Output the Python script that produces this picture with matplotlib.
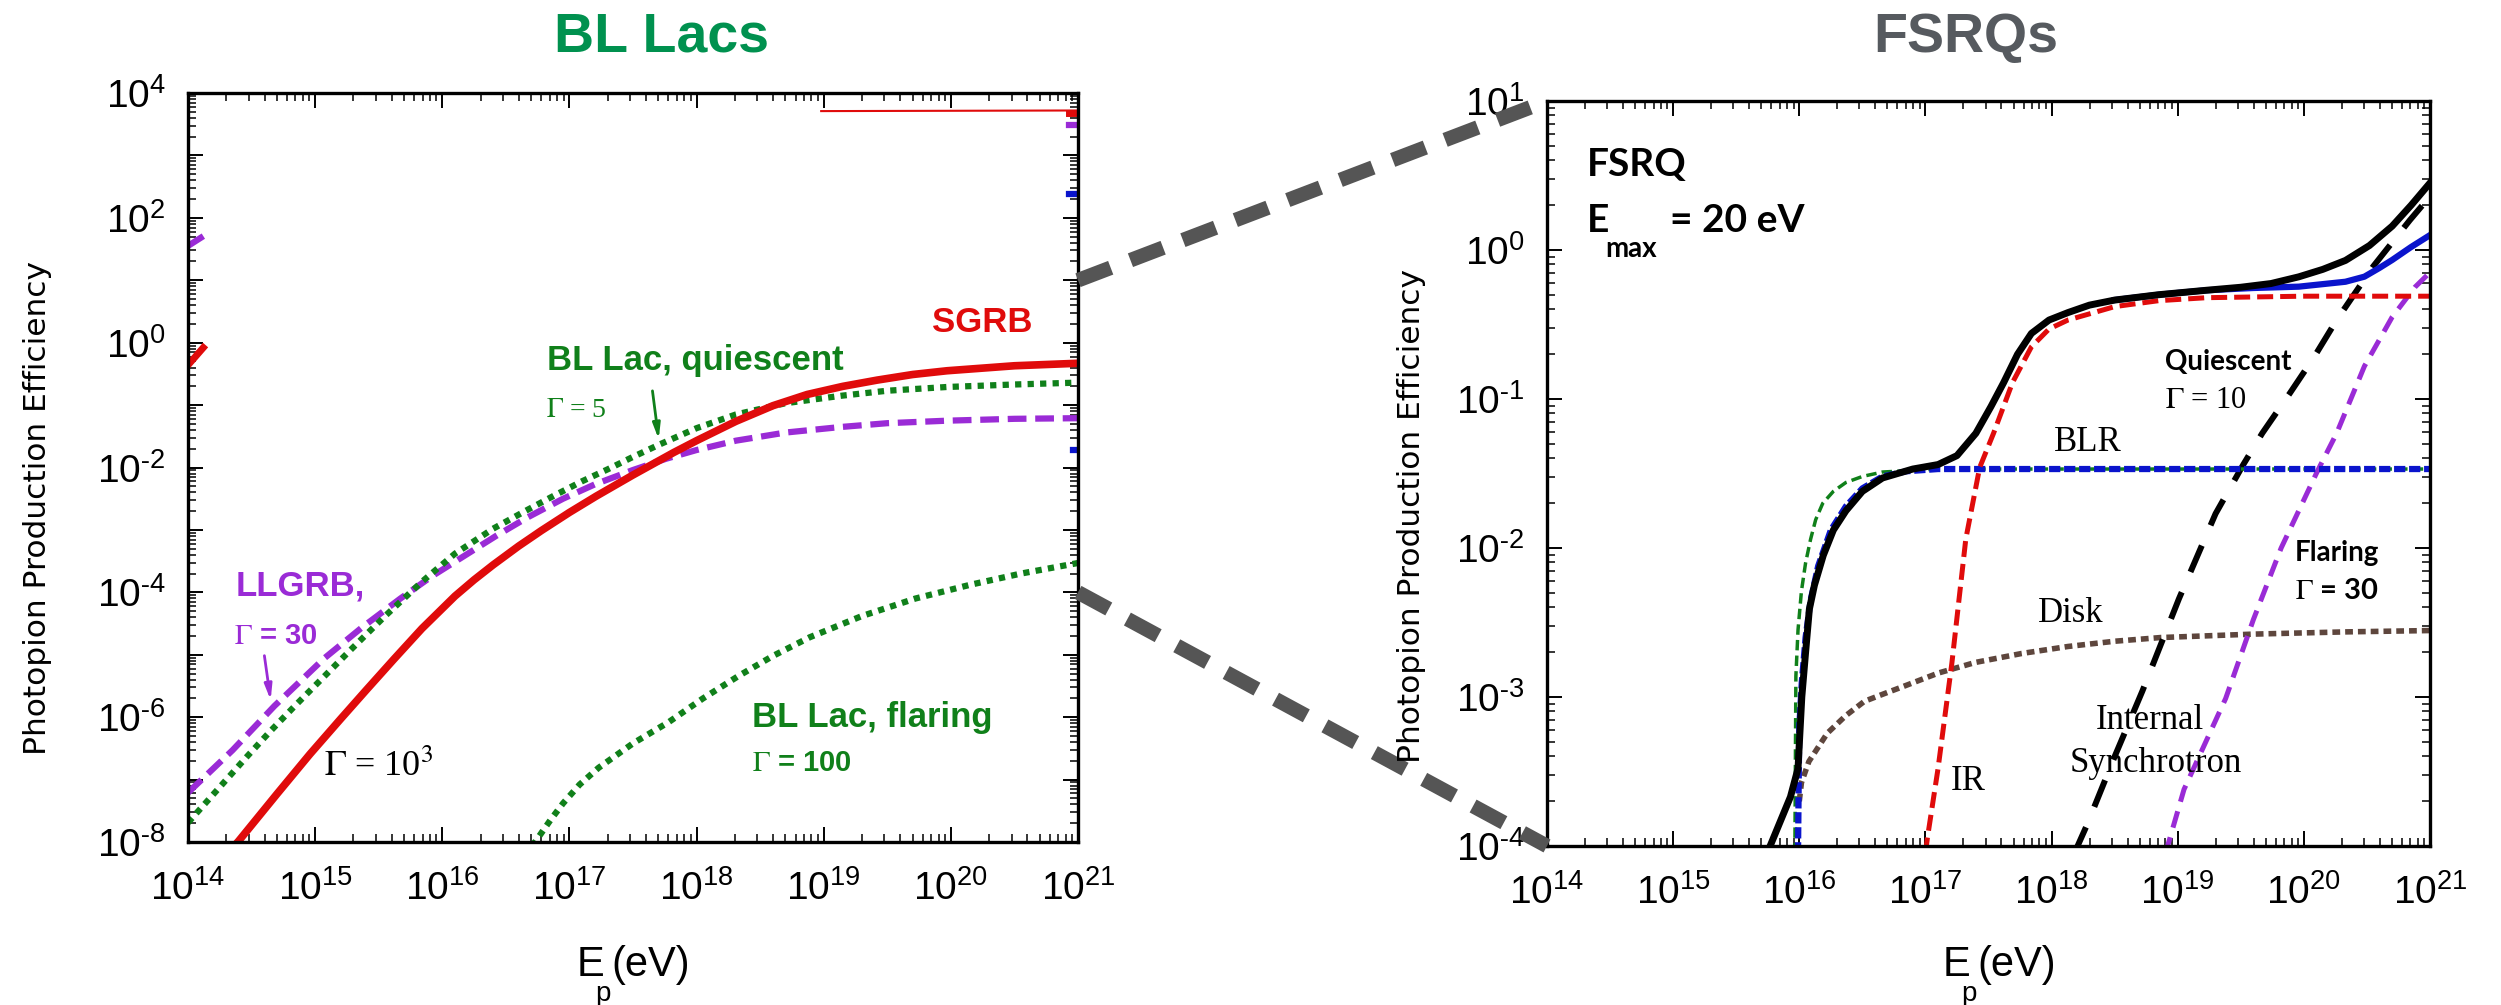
import numpy as np
import matplotlib.pyplot as plt
from matplotlib.patches import ConnectionPatch
from matplotlib.ticker import LogLocator, NullFormatter

plt.rcParams['font.family'] = ['Liberation Sans', 'DejaVu Sans']
plt.rcParams['mathtext.fontset'] = 'stix'
plt.rcParams['axes.unicode_minus'] = False

# ---------------- BL Lac panel : log10(E_p / eV) , log10(efficiency) ----------------
sgrb_logE = [14.37, 14.40, 14.70, 14.96, 15.20, 15.40, 15.62, 15.84, 16.10, 16.25,
             16.40, 16.60, 16.78, 17.00, 17.21, 17.50, 17.82, 18.00, 18.31, 18.60,
             18.87, 19.15, 19.42, 19.70, 19.97, 20.50, 21.0]
sgrb_logY = [-8.05, -7.98, -7.23, -6.59, -6.03, -5.57, -5.07, -4.58, -4.06, -3.80,
             -3.56, -3.26, -3.01, -2.72, -2.46, -2.12, -1.76, -1.57, -1.26, -1.01,
             -0.83, -0.70, -0.60, -0.51, -0.45, -0.37, -0.33]

blq_logE = [14.00, 14.25, 14.46, 14.65, 14.85, 15.07, 15.29, 15.55, 15.84, 16.10,
            16.40, 16.65, 16.88, 17.10, 17.30, 17.50, 17.71, 18.00, 18.31, 18.70,
            19.14, 19.50, 19.97, 20.50, 21.0]
blq_logY = [-7.69, -7.12, -6.64, -6.22, -5.80, -5.35, -4.90, -4.38, -3.83, -3.38,
            -2.98, -2.70, -2.45, -2.22, -2.03, -1.83, -1.63, -1.37, -1.15, -0.97,
            -0.85, -0.77, -0.71, -0.67, -0.64]

llgrb_logE = [14.00, 14.35, 14.68, 15.07, 15.37, 15.67, 15.92, 16.17, 16.42, 16.67,
              16.95, 17.20, 17.50, 17.76, 18.00, 18.31, 18.70, 19.14, 19.50, 19.97,
              20.50, 21.0]
llgrb_logY = [-7.21, -6.53, -5.82, -5.06, -4.56, -4.10, -3.74, -3.42, -3.10, -2.80,
              -2.50, -2.27, -2.04, -1.86, -1.72, -1.57, -1.44, -1.35, -1.29, -1.25,
              -1.22, -1.21]

blf_logE = [16.70, 16.73, 16.85, 16.95, 17.08, 17.23, 17.50, 17.78, 18.05, 18.33,
            18.60, 18.89, 19.30, 19.72, 20.15, 20.55, 21.0]
blf_logY = [-8.05, -8.0, -7.65, -7.38, -7.08, -6.81, -6.42, -6.08, -5.70, -5.34,
            -5.02, -4.72, -4.38, -4.10, -3.88, -3.70, -3.53]

# short stray segments at the panel edges
sgrb_top_logE = [18.98, 21.0]
sgrb_top_logY = [3.71, 3.72]
stub_red_logE = [[14.0, 14.12], [20.93, 21.0]]
stub_red_logY = [[-0.36, -0.08], [3.68, 3.68]]
stub_purple_logE = [[14.0, 14.1], [20.93, 21.0]]
stub_purple_logY = [[1.55, 1.68], [3.49, 3.49]]
stub_blue_logE = [[20.93, 20.97], [20.96, 21.0]]
stub_blue_logY = [[2.38, 2.38], [-1.72, -1.72]]

# ---------------- FSRQ panel ----------------
total_logE = [15.72, 15.93, 15.99, 16.02, 16.05, 16.08, 16.12, 16.19, 16.27, 16.37,
              16.50, 16.66, 16.90, 17.10, 17.25, 17.40, 17.52, 17.62, 17.73, 17.84,
              17.98, 18.13, 18.30, 18.50, 18.85, 19.23, 19.50, 19.74, 19.96, 20.15,
              20.33, 20.52, 20.70, 20.85, 21.0]
total_logY = [-4.10, -3.67, -3.48, -3.00, -2.70, -2.41, -2.25, -2.05, -1.88, -1.75,
              -1.62, -1.53, -1.47, -1.44, -1.38, -1.23, -1.05, -0.89, -0.70, -0.56,
              -0.47, -0.42, -0.37, -0.336, -0.30, -0.27, -0.25, -0.225, -0.18, -0.13,
              -0.07, 0.03, 0.16, 0.30, 0.45]

ext_logE = [18.50, 18.85, 19.23, 19.60, 19.96, 20.33, 20.48, 20.60, 20.70, 20.85, 21.0]
ext_logY = [-0.336, -0.30, -0.27, -0.255, -0.246, -0.213, -0.179, -0.12, -0.067, 0.02, 0.10]

blr_logE = [15.99, 15.995, 16.00, 16.02, 16.05, 16.09, 16.15, 16.25, 16.37, 16.50,
            16.66, 16.85, 17.10, 21.0]
blr_logY = [-4.05, -3.60, -3.20, -2.90, -2.60, -2.35, -2.12, -1.88, -1.72, -1.60,
            -1.52, -1.485, -1.47, -1.47]

blr2_logE = [15.965, 15.97, 15.973, 15.99, 16.017, 16.05, 16.09, 16.13, 16.186, 16.27,
             16.37, 16.50, 16.66, 17.10, 21.0]
blr2_logY = [-4.05, -3.30, -2.86, -2.55, -2.29, -2.10, -1.94, -1.81, -1.70, -1.62,
             -1.56, -1.52, -1.49, -1.47, -1.47]

ir_logE = [17.00, 17.015, 17.10, 17.21, 17.32, 17.43, 17.54, 17.69, 17.84, 17.98,
           18.13, 18.50, 18.85, 19.23, 20.0, 21.0]
ir_logY = [-4.05, -3.95, -3.48, -2.77, -1.94, -1.46, -1.23, -0.89, -0.65, -0.53,
           -0.47, -0.38, -0.34, -0.32, -0.31, -0.31]

disk_logE = [16.00, 16.017, 16.076, 16.222, 16.37, 16.516, 16.663, 16.81, 17.103,
             17.396, 17.763, 18.13, 18.497, 18.864, 19.597, 20.33, 21.0]
disk_logY = [-3.70, -3.575, -3.433, -3.243, -3.124, -3.029, -2.981, -2.934, -2.839,
             -2.768, -2.708, -2.661, -2.626, -2.601, -2.578, -2.563, -2.554]

sync_q_logE = [18.18, 18.28, 18.50, 18.72, 19.01, 19.30, 19.52, 19.67, 19.89, 20.08,
               20.26, 20.55, 20.84, 21.0]
sync_q_logY = [-4.05, -3.86, -3.40, -2.96, -2.34, -1.77, -1.44, -1.23, -0.96, -0.72,
               -0.47, -0.11, 0.20, 0.36]

sync_f_logE = [18.90, 18.92, 19.05, 19.38, 19.60, 19.82, 20.11, 20.26, 20.48, 20.70,
               20.88, 21.0]
sync_f_logY = [-4.05, -4.0, -3.62, -3.01, -2.48, -2.00, -1.48, -1.23, -0.78, -0.45,
               -0.25, -0.15]

RED = '#e00b0b'
GREEN = '#10801a'
PURPLE = '#9a2bd6'
BLUE = '#0a14cc'
BROWN = '#5e463d'


def curve(ax, logE, logY, **kw):
    ax.plot(np.power(10.0, logE), np.power(10.0, logY), **kw)


def decade_label(k):
    # short hyphen for negative exponents
    if k < 0:
        return rf'$\mathdefault{{10^{{\text{{-}}{-k}}}}}$'
    return rf'$\mathdefault{{10^{{{k}}}}}$'


def style_axis(ax, ylo, yhi, every):
    ax.set_xscale('log')
    ax.set_yscale('log')
    ax.set_xlim(1e14, 1e21)
    ax.set_ylim(10.0 ** ylo, 10.0 ** yhi)
    xk = range(14, 22)
    ax.set_xticks([10.0 ** k for k in xk], [decade_label(k) for k in xk])
    yk = range(ylo, yhi + 1)
    ax.set_yticks([10.0 ** k for k in yk],
                  [decade_label(k) if (k - ylo) % every == 0 else '' for k in yk])
    for a in (ax.xaxis, ax.yaxis):
        a.set_minor_locator(LogLocator(base=10, subs=np.arange(2, 10), numticks=100))
        a.set_minor_formatter(NullFormatter())
    ax.tick_params(which='both', direction='in', top=True, right=True, labelsize=28)
    ax.tick_params(axis='x', pad=20)
    ax.tick_params(axis='y', pad=16)
    ax.tick_params(which='major', length=11, width=1.4)
    ax.tick_params(which='minor', length=5.5, width=1.1)
    for s in ax.spines.values():
        s.set_linewidth(2.4)


fig = plt.figure(figsize=(25.01, 10.05), dpi=100)
W, H = 2501.0, 1005.0
ax1 = fig.add_axes([188 / W, 1 - 842 / H, 890 / W, 749 / H])
ax2 = fig.add_axes([1547 / W, 1 - 846 / H, 883 / W, 745 / H])

# ---- left panel ----
style_axis(ax1, -8, 4, 2)
curve(ax1, blf_logE, blf_logY, color=GREEN, lw=4.5, ls=(0, (1, 1)))
curve(ax1, llgrb_logE, llgrb_logY, color=PURPLE, lw=4.5, ls=(0, (3, 1.4)))
curve(ax1, blq_logE, blq_logY, color=GREEN, lw=4.5, ls=(0, (1, 1)))
curve(ax1, sgrb_logE, sgrb_logY, color=RED, lw=5.5)
curve(ax1, sgrb_top_logE, sgrb_top_logY, color=RED, lw=1.5)
for e, y in zip(stub_red_logE, stub_red_logY):
    curve(ax1, e, y, color=RED, lw=5)
for e, y in zip(stub_purple_logE, stub_purple_logY):
    curve(ax1, e, y, color=PURPLE, lw=4.5)
for e, y in zip(stub_blue_logE, stub_blue_logY):
    curve(ax1, e, y, color=BLUE, lw=4.5)

bold = dict(fontweight='bold', fontsize=25)
ax1.text(1.76e20, 2.07, 'SGRB', color=RED, ha='center', va='center', **bold)
ax1.text(6.67e16, 0.527, 'BL Lac, quiescent', color=GREEN, ha='left', va='center', **bold)
ax1.text(6.5e16, 0.083, r'$\Gamma$ = 5', color=GREEN, ha='left', va='center',
         fontsize=20, family='Liberation Serif')
ax1.annotate('', xy=(5.07e17, 0.0256), xytext=(4.47e17, 0.187),
             arrowprops=dict(arrowstyle='-|>,head_length=0.9,head_width=0.22',
                             color=GREEN, lw=2))
ax1.text(2.39e14, 1.26e-4, 'LLGRB,', color=PURPLE, ha='left', va='center', **bold)
ax1.text(2.3e14, 2.0e-5, r'$\Gamma$ = 30', color=PURPLE, ha='left', va='center',
         fontsize=21, fontweight='bold')
ax1.annotate('', xy=(4.5e14, 1.69e-6), xytext=(3.96e14, 1.07e-5),
             arrowprops=dict(arrowstyle='-|>,head_length=0.9,head_width=0.22',
                             color=PURPLE, lw=2))
ax1.text(1.175e15, 1.6e-7, r'$\Gamma$ = 10$^3$', color='black', ha='left', va='center',
         fontsize=26, family='Liberation Serif')
ax1.text(2.73e18, 1.0e-6, 'BL Lac, flaring', color=GREEN, ha='left', va='center', **bold)
ax1.text(2.73e18, 1.85e-7, r'$\Gamma$ = 100', color=GREEN, ha='left', va='center',
         fontsize=21, fontweight='bold')

# ---- right panel ----
style_axis(ax2, -4, 1, 1)
curve(ax2, disk_logE, disk_logY, color=BROWN, lw=4, ls=(0, (1.4, 0.9)))
curve(ax2, sync_f_logE, sync_f_logY, color=PURPLE, lw=3.6, ls=(0, (3.4, 2.0)))
curve(ax2, sync_q_logE, sync_q_logY, color='black', lw=4.3, ls=(0, (4.8, 3.7)))
curve(ax2, blr2_logE, blr2_logY, color=GREEN, lw=2.5, ls=(0, (3, 1.5)))
curve(ax2, blr_logE, blr_logY, color=BLUE, lw=4.5, ls=(0, (1.8, 0.6)))
curve(ax2, ir_logE, ir_logY, color=RED, lw=3.6, ls=(0, (3.2, 1.4)))
curve(ax2, ext_logE, ext_logY, color=BLUE, lw=4.5)
curve(ax2, total_logE, total_logY, color='black', lw=5)

lato = dict(family=['Lato', 'DejaVu Sans'], fontweight='bold')
ax2.text(2.08e14, 3.72, 'FSRQ', ha='left', va='center', fontsize=28, **lato)
ax2.text(2.08e14, 1.32, 'E', ha='left', va='baseline', fontsize=28, **lato)
ax2.text(2.88e14, 0.897, 'max', ha='left', va='baseline', fontsize=20, **lato)
ax2.text(9.44e14, 1.32, '= 20 eV', ha='left', va='baseline', fontsize=28, **lato)
ax2.text(7.93e18, 0.177, 'Quiescent', ha='left', va='center', fontsize=20, **lato)
ax2.text(7.93e18, 0.0984, r'$\Gamma$ = 10', ha='left', va='center', fontsize=22,
         family='Liberation Serif')
ax2.text(8.5e19, 9.25e-3, 'Flaring', ha='left', va='center', fontsize=20, **lato)
ax2.text(8.5e19, 5.14e-3, r'$\Gamma$ = 30', ha='left', va='center', fontsize=21, **lato)
serif = dict(family='Liberation Serif', fontsize=25, ha='center', va='center')
ax2.text(1.95e18, 0.0507, 'BLR', **serif)
ax2.text(1.43e18, 3.66e-3, 'Disk', **serif)
ax2.text(2.18e17, 2.69e-4, 'IR', **serif)
ax2.text(6.03e18, 7.0e-4, 'Internal', **serif)
ax2.text(6.73e18, 3.6e-4, 'Synchrotron', **serif)

# zoom connectors between the panels
for yv in (1e1, 1e-4):
    con = ConnectionPatch(xyA=(1e21, yv), coordsA=ax1.transData,
                          xyB=(1e14, yv), coordsB=ax2.transData,
                          color='#555555', lw=10.5, linestyle=(0, (2.4, 1.45)),
                          capstyle='butt')
    fig.add_artist(con)

# titles and axis labels
fig.text(661 / W, 1 - 37 / H, 'BL Lacs', color='#00914f', fontsize=40,
         fontweight='bold', ha='center', va='center')
fig.text(1966 / W, 1 - 38 / H, 'FSRQs', color='#565a5f', fontsize=40,
         fontweight='bold', ha='center', va='center')

ylab = dict(rotation=90, ha='center', va='center', fontsize=22.5,
            family='DejaVu Sans')
fig.text(38 / W, 1 - 508 / H, 'Photopion Production Efficiency', **ylab)
fig.text(1411 / W, 1 - 516 / H, 'Photopion Production Efficiency', **ylab)

for x0 in (577, 1943):
    fig.text(x0 / W, 1 - 976 / H, 'E', fontsize=30, ha='left', va='baseline')
    fig.text((x0 + 18) / W, 1 - 1001 / H, 'p', fontsize=20, ha='left', va='baseline')
    fig.text((x0 + 34) / W, 1 - 976 / H, '(eV)', fontsize=30, ha='left', va='baseline')

fig.savefig('out.png', dpi=100)
